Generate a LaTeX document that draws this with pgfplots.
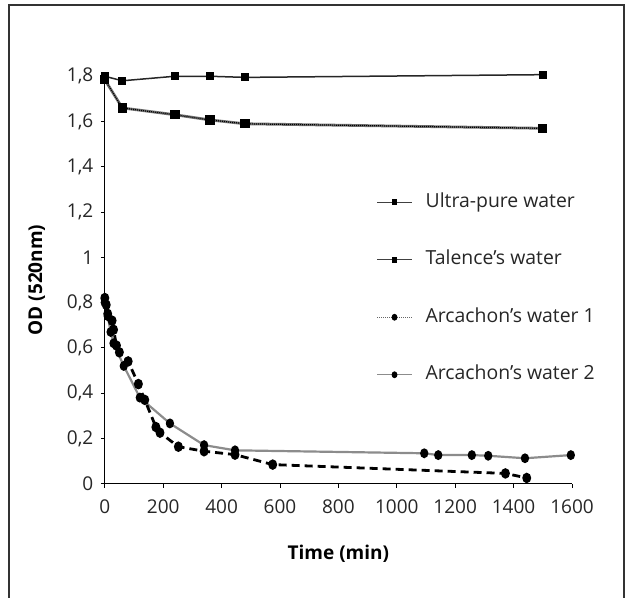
\documentclass[border=0pt]{standalone}
\usepackage{pgfplots}
\pgfplotsset{compat=1.18}
\usepackage{fontspec}
\setmainfont{Open Sans}
\begin{document}
\begin{tikzpicture}[font=\fontsize{19bp}{22bp}\selectfont]
\useasboundingbox (-104.8bp,-114.4bp) rectangle (523.2bp,483.6bp);
\begin{axis}[
  at={(0,0)}, anchor=origin,
  x=0.292bp, y=226.3bp,
  xmin=0, xmax=1600, ymin=0, ymax=1.8,
  axis x line=bottom, axis y line=left,
  axis line style={-, black, line width=0.9bp},
  clip=false,
  xtick={0,200,400,600,800,1000,1200,1400,1600},
  ytick={0,0.2,0.4,0.6,0.8,1,1.2,1.4,1.6,1.8},
  tick align=outside,
  major tick length=4bp,
  tick style={black, line width=0.9bp},
  /pgf/number format/assume math mode=true,
  /pgf/number format/use comma,
  /pgf/number format/1000 sep={},
  tick label style={font=\fontsize{19bp}{22bp}\selectfont, text=black!85},
  xticklabel style={yshift=-9bp},
  yticklabel style={xshift=-4bp},
  xlabel={\bfseries Time (min)},
  ylabel={\bfseries OD (520nm)},
  xlabel style={at={(axis description cs:0.5,0)}, anchor=center, yshift=-70bp},
  ylabel style={at={(axis description cs:0,0.5)}, anchor=center, yshift=68bp},
  legend image code/.code={\draw[mark repeat=2,mark phase=2,#1] plot coordinates {(0bp,0bp) (17.5bp,0bp) (35bp,0bp)};},
  legend cell align=left,
  legend style={draw=none, fill=none, at={(axis cs:1304,0.862)}, anchor=center,
    column sep=13bp, row sep=39.5bp, inner sep=0pt,
    nodes={inner sep=0pt, text height=14bp, text depth=4bp, text=black!85, font=\fontsize{19.4bp}{22bp}\selectfont}},
]
% Ultra-pure water
\addplot[forget plot, black!85, line width=1.5bp, mark=square*, mark size=3.3bp, mark options={solid, black}]
coordinates {(0,1.80) (60,1.78) (240,1.80) (360,1.80) (480,1.795) (1500,1.807)};
% Talence's water
\addplot[forget plot, black!55, line width=2.8bp, mark=square*, mark size=3.3bp, mark options={solid, black}]
coordinates {(0,1.785) (60,1.66) (240,1.63) (360,1.607) (480,1.59) (1500,1.57)};
\addplot[forget plot, black, line width=1.2bp, dash pattern=on 1bp off 1bp]
coordinates {(0,1.785) (60,1.66) (240,1.63) (360,1.607) (480,1.59) (1500,1.57)};
% Arcachon's water 2 (grey)
\addplot[forget plot, black!45, line width=2.2bp, mark=*, mark size=3bp, mark options={solid, black, yscale=1.25}]
coordinates {(0,0.80) (10,0.74) (20,0.67) (30,0.62) (65,0.52) (120,0.38) (223,0.266) (340,0.17) (446,0.147) (1094,0.134) (1142,0.126) (1257,0.126) (1313,0.123) (1439,0.112) (1596,0.126)};
% Arcachon's water 1 (dashed)
\addplot[forget plot, black, line width=2.8bp, dash pattern=on 8bp off 5bp, mark=*, mark size=3bp, mark options={solid, black, yscale=1.25}]
coordinates {(0,0.82) (5,0.79) (10,0.75) (25,0.72) (30,0.68) (40,0.61) (50,0.58) (80,0.54) (115,0.44) (137,0.37) (175,0.25) (189,0.225) (252,0.163) (340,0.143) (446,0.128) (575,0.084) (1372,0.045) (1445,0.025)};
% legend
\addlegendimage{black!75, line width=1.3bp, mark=square*, mark size=2.2bp, mark options={solid, black}}
\addlegendentry{Ultra-pure water}
\addlegendimage{black!75, line width=1.3bp, mark=square*, mark size=2.2bp, mark options={solid, black}}
\addlegendentry{Talence’s water}
\addlegendimage{black!60, line width=1bp, dash pattern=on 1bp off 1bp, mark=*, mark size=2.4bp, mark options={solid, black, yscale=1.2}}
\addlegendentry{Arcachon’s water 1}
\addlegendimage{black!45, line width=1bp, mark=*, mark size=2.4bp, mark options={solid, black, yscale=1.2}}
\addlegendentry{Arcachon’s water 2}
\end{axis}
\draw[black!80, line width=1.2bp] (-95.8bp,-114.4bp) -- (-95.8bp,478.6bp) -- (519.2bp,478.6bp) -- (519.2bp,-114.4bp);
\end{tikzpicture}
\end{document}
